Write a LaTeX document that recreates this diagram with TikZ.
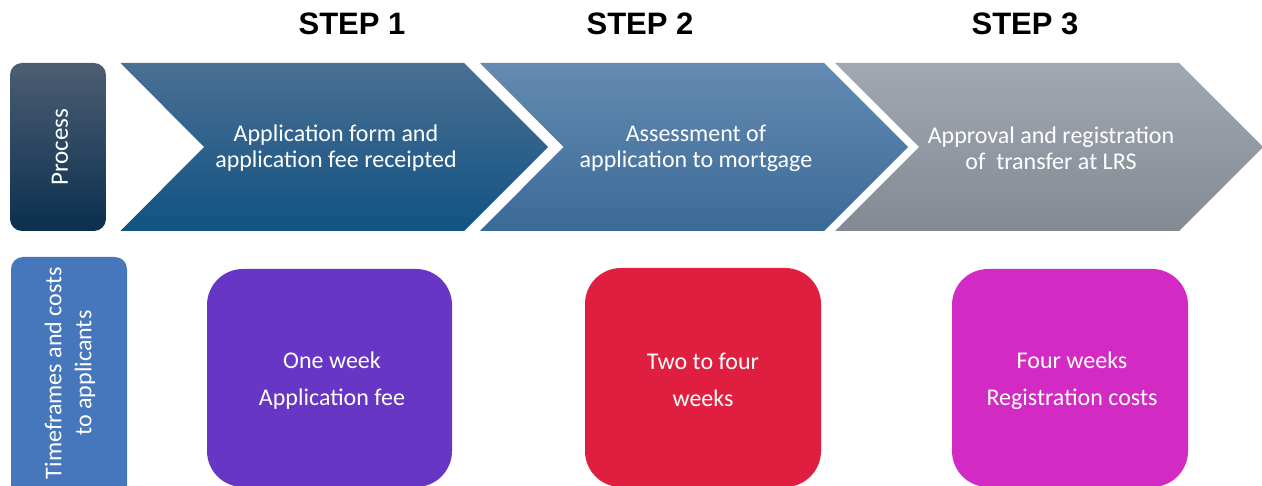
\documentclass[tikz,border=0pt]{standalone}
\usepackage{fontspec}
\setmainfont{Carlito}
\newfontfamily\stepfont{Liberation Sans}
\definecolor{procTop}{HTML}{4C5E72}
\definecolor{procBot}{HTML}{0B2F4F}
\definecolor{chOneTop}{HTML}{4A6F93}
\definecolor{chOneBot}{HTML}{115383}
\definecolor{chTwoTop}{HTML}{648BB1}
\definecolor{chTwoBot}{HTML}{3B6A98}
\definecolor{chThrTop}{HTML}{A2A8B1}
\definecolor{chThrBot}{HTML}{848A94}
\definecolor{timeBlue}{HTML}{4677BC}
\definecolor{boxPurple}{HTML}{6836C4}
\definecolor{boxRed}{HTML}{E01F40}
\definecolor{boxMag}{HTML}{D42AC4}
\tikzset{
  steplabel/.style={font=\stepfont\bfseries\fontsize{31}{31}\selectfont, text=black},
  chevtext/.style={font=\fontsize{24}{26}\selectfont, text=white, align=center},
  sidebox/.style={rounded corners=12pt, minimum width=96pt},
  sidetext/.style={font=\fontsize{24}{30}\selectfont, text=white, align=center, rotate=90},
  costbox/.style={rounded corners=36pt, text=white, align=center,
    font=\fontsize{24}{37}\selectfont, inner sep=0pt},
}
\begin{document}
\begin{tikzpicture}[x=1pt,y=-1pt]
\useasboundingbox (0,0) rectangle (1262,486);
% step labels
\node[steplabel] (s1) at (352,24) {STEP 1};
\node[steplabel] (s2) at (640,24) {STEP 2};
\node[steplabel] (s3) at (1025,24) {STEP 3};
% process box
\node[sidebox, top color=procTop, bottom color=procBot, minimum height=168pt] (proc) at (58,147) {};
\node[sidetext, font=\fontsize{25}{30}\selectfont] (proct) at (60,147) {Process};
% chevrons
\shade[top color=chOneTop, bottom color=chOneBot] (120.5,63) -- (464,63) -- (548,147) -- (464,231) -- (120.5,231) -- (204,147) -- cycle;
\shade[top color=chTwoTop, bottom color=chTwoBot] (480,63) -- (824,63) -- (908,147) -- (824,231) -- (480,231) -- (563.5,147) -- cycle;
\shade[top color=chThrTop, bottom color=chThrBot] (835,63) -- (1179,63) -- (1263,147) -- (1179,231) -- (835,231) -- (919,147) -- cycle;
\node[chevtext] (c1) at (336,148) {Application form and\\application fee receipted};
\node[chevtext] (c2) at (696,148) {Assessment of\\application to mortgage};
\node[chevtext] (c3) at (1051,148) {Approval and registration\\of\ \ transfer at LRS};
% time frames box
\fill[timeBlue, rounded corners=12pt] (11,257) rectangle (127,500);
\node[sidetext] (tft) at (70,373) {Timeframes and costs\\to applicants};
% cost boxes
\node[costbox, fill=boxPurple, minimum width=245pt, minimum height=218pt] (b1) at (329.5,378) {};
\node[costbox, fill=boxRed, minimum width=236pt, minimum height=219pt] (b2) at (703,377.5) {};
\node[costbox, fill=boxMag, minimum width=236pt, minimum height=218pt] (b3) at (1070,378) {};
\node[costbox] (t1) at (332,381) {One week\\Application fee};
\node[costbox] (t2) at (703,380) {Two to four\\weeks};
\node[costbox] (t3) at (1072,381) {Four weeks\\Registration costs};
\end{tikzpicture}
\end{document}
